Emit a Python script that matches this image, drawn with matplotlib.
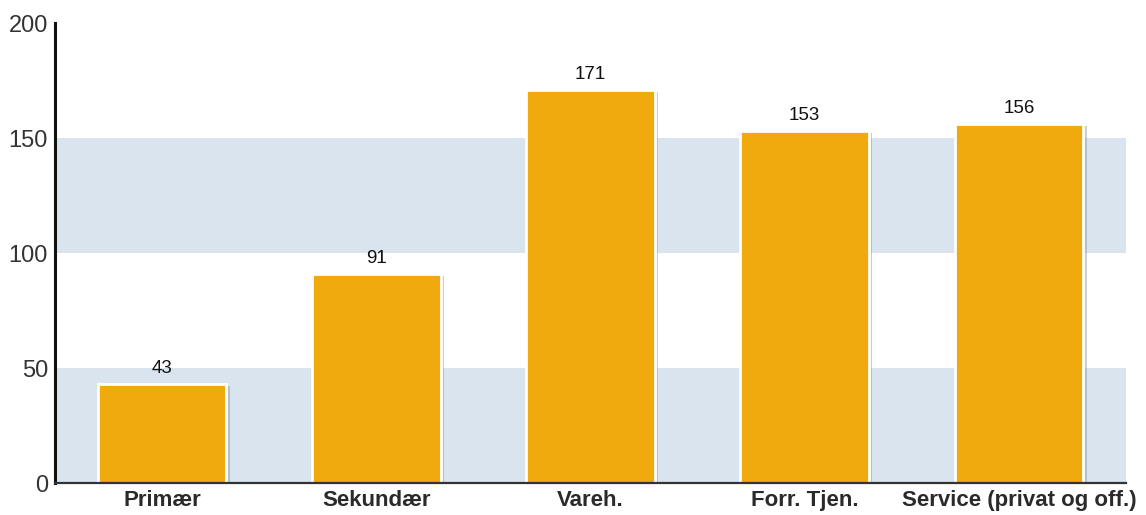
import matplotlib
matplotlib.use("Agg")
import matplotlib.pyplot as plt
import matplotlib.patheffects as pe

categories = ["Primær", "Sekundær", "Vareh.", "Forr. Tjen.", "Service (privat og off.)"]
values = [43, 91, 171, 153, 156]
yticks = [0, 50, 100, 150, 200]
bands = [(0, 50), (100, 150)]

plt.rcParams['font.family'] = ['Liberation Sans', 'DejaVu Sans']

fig = plt.figure(figsize=(11.46, 5.15), dpi=100)
ax = fig.add_axes([0.048, 0.0621, 0.9346, 0.8932])

for lo, hi in bands:
    ax.axhspan(lo, hi, color='#D9E4EF', zorder=0, lw=0)

x = list(range(len(categories)))
bars = ax.bar(x, values, width=0.6, color='#F0AA0E', edgecolor='white', linewidth=2, zorder=3)
for b in bars:
    b.set_path_effects([pe.SimplePatchShadow(offset=(2.5, -1.5), shadow_rgbFace='#8a95a0', alpha=0.45), pe.Normal()])

for xi, v in zip(x, values):
    ax.annotate(str(v), (xi, v), xytext=(0, 5), textcoords='offset points',
                ha='center', va='bottom', fontsize=13.5, color='#111111')

ax.set_xlim(-0.5, len(categories) - 0.5)
ax.set_ylim(0, 200)
ax.set_yticks(yticks)
ax.set_xticks(x)
ax.set_xticklabels(categories, fontsize=16, fontweight='bold', color='#2a2a2a')
ax.tick_params(axis='y', length=0, labelsize=17, labelcolor='#333333', pad=5)
ax.tick_params(axis='x', length=0, pad=5)

for s in ['top', 'right']:
    ax.spines[s].set_visible(False)
ax.spines['left'].set_linewidth(2.2)
ax.spines['left'].set_color('#111111')
ax.spines['bottom'].set_linewidth(1.6)
ax.spines['bottom'].set_color('#333333')
ax.spines['left'].set_zorder(5)
ax.spines['bottom'].set_zorder(5)

fig.savefig('out.png', dpi=100)
